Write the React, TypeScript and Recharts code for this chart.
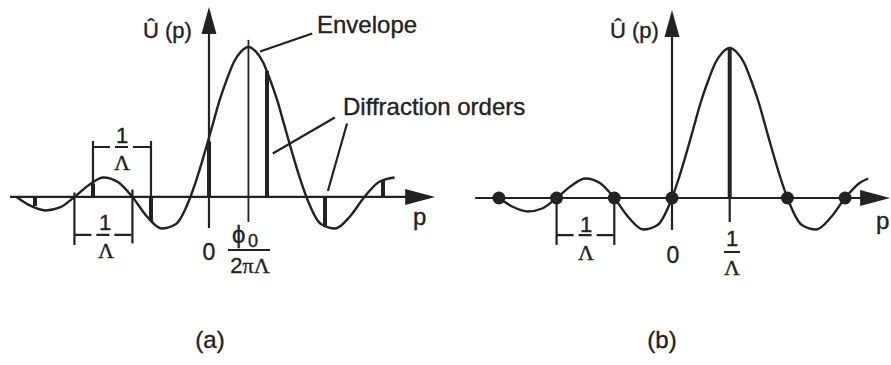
import {
  ComposedChart,
  Line,
  XAxis,
  YAxis,
  ReferenceLine,
  ReferenceDot,
} from "recharts";

// envelope of panel (a) (p in units of 1/Λ)
const ENV_A_P = [
  -3.32, -3.07, -2.82, -2.57, -2.32, -2.07, -1.82, -1.57, -1.32, -1.07, -0.82,
  -0.57, -0.32, -0.195, -0.07, 0.055, 0.18, 0.305, 0.43, 0.555, 0.68, 0.805,
  0.93, 1.055, 1.18, 1.305, 1.43, 1.555, 1.68, 1.93, 2.18, 2.43, 2.68, 2.93,
  3.2,
];
const ENV_A_U = [
  0, -0.06, -0.09, -0.07, 0, 0.08, 0.13, 0.1, 0, -0.13, -0.21, -0.18, 0, 0.14,
  0.3, 0.47, 0.64, 0.78, 0.9, 0.97, 1.0, 0.97, 0.9, 0.78, 0.64, 0.47, 0.3,
  0.14, 0, -0.18, -0.21, -0.13, 0, 0.1, 0.13,
];
// diffraction orders (a)
const ORDER_A_P = [-3, -2, -1, 0, 1, 2, 3];
const ORDER_A_U = [-0.06, 0.09, -0.16, 0.37, 0.84, -0.2, 0.11];
const CENTER_A = 0.68;

// envelope of panel (b)
const ENV_B_P = [
  -3, -2.75, -2.5, -2.25, -2, -1.75, -1.5, -1.25, -1, -0.75, -0.5, -0.25, 0,
  0.125, 0.25, 0.375, 0.5, 0.625, 0.75, 0.875, 1, 1.125, 1.25, 1.375, 1.5,
  1.625, 1.75, 1.875, 2, 2.25, 2.5, 2.75, 3, 3.25, 3.4,
];
const ENV_B_U = [
  0, -0.06, -0.09, -0.07, 0, 0.08, 0.13, 0.1, 0, -0.13, -0.21, -0.18, 0, 0.14,
  0.3, 0.47, 0.64, 0.78, 0.9, 0.97, 1.0, 0.97, 0.9, 0.78, 0.64, 0.47, 0.3,
  0.14, 0, -0.18, -0.21, -0.13, 0, 0.1, 0.13,
];
const ZERO_B_P = [-3, -2, -1, 0, 2, 3];
const ORDER_B_P = [1];
const ORDER_B_U = [1.0];

const INK = "#222";
const SANS = '"Liberation Sans", Arial, sans-serif';
const SERIF = '"Liberation Serif", "Times New Roman", serif';

const envA = ENV_A_P.map((p, i) => ({ p, u: ENV_A_U[i] }));
const envB = ENV_B_P.map((p, i) => ({ p, u: ENV_B_U[i] }));

const ArrowRight = (props: any) => {
  const { cx, cy } = props;
  return (
    <polygon
      points={`${cx},${cy} ${cx - 30},${cy - 8} ${cx - 30},${cy + 8}`}
      fill={INK}
    />
  );
};

const ArrowUp = (props: any) => {
  const { cx, cy } = props;
  return (
    <polygon
      points={`${cx},${cy} ${cx - 7.5},${cy + 27} ${cx + 7.5},${cy + 27}`}
      fill={INK}
    />
  );
};

const seg = (x1: number, y1: number, x2: number, y2: number, w = 2.2, dash?: string) => (
  <ReferenceLine
    key={`${x1}-${y1}-${x2}-${y2}`}
    segment={[
      { x: x1, y: y1 },
      { x: x2, y: y2 },
    ]}
    stroke={INK}
    strokeWidth={w}
    strokeDasharray={dash}
  />
);

const margin = { top: 0, right: 0, bottom: 65, left: 0 };

const PanelA = () => (
  <ComposedChart width={444} height={365} data={envA} margin={margin}>
    <XAxis type="number" dataKey="p" domain={[-3.603, 4.052]} allowDataOverflow hide />
    <YAxis type="number" domain={[-0.687, 1.313]} allowDataOverflow hide />
    {/* axes */}
    {seg(-3.43, 0, 3.5, 0)}
    {seg(0, -0.207, 0, 1.12)}
    <ReferenceDot x={3.9} y={0} r={1} shape={ArrowRight} />
    <ReferenceDot x={0} y={1.267} r={1} shape={ArrowUp} />
    {/* centre of the envelope */}
    {seg(CENTER_A, -0.167, CENTER_A, 1.047, 1.8)}
    {/* diffraction orders */}
    {ORDER_A_P.map((p, i) => seg(p, 0, p, ORDER_A_U[i], 4))}
    {/* brackets */}
    {seg(-2, 0, -2, 0.373)}
    {seg(-1, 0, -1, 0.373)}
    {seg(-2, 0.333, -1, 0.333, 2.2, "17 5 13 5")}
    {seg(-2.32, 0.03, -2.32, -0.32)}
    {seg(-1.32, 0.05, -1.32, -0.31)}
    {seg(-2.32, -0.253, -1.32, -0.253, 2.2, "17 5 13 5")}
    {/* leaders */}
    {seg(0.88, 0.97, 1.78, 1.09)}
    {seg(1.1, 0.29, 2.17, 0.53)}
    {seg(2.38, 0.49, 2.05, 0.04)}
    <Line
      type="monotone"
      dataKey="u"
      stroke={INK}
      strokeWidth={2.4}
      dot={false}
      activeDot={false}
      isAnimationActive={false}
    />
  </ComposedChart>
);

const PanelB = () => (
  <ComposedChart width={444} height={365} data={envB} margin={margin}>
    <XAxis type="number" dataKey="p" domain={[-3.899, 3.795]} allowDataOverflow hide />
    <YAxis type="number" domain={[-0.68, 1.32]} allowDataOverflow hide />
    {seg(-3.41, 0, 3.5, 0)}
    {seg(0, -0.213, 0, 1.1)}
    <ReferenceDot x={3.78} y={0} r={1} shape={ArrowRight} />
    <ReferenceDot x={0} y={1.253} r={1} shape={ArrowUp} />
    {seg(1, -0.16, 1, 0)}
    {ORDER_B_P.map((p, i) => seg(p, 0, p, ORDER_B_U[i], 4))}
    {seg(-2, 0, -2, -0.313)}
    {seg(-1, 0, -1, -0.313)}
    {seg(-2, -0.247, -1, -0.247, 2.2, "17 5 13 5")}
    <Line
      type="monotone"
      dataKey="u"
      stroke={INK}
      strokeWidth={2.4}
      dot={false}
      activeDot={false}
      isAnimationActive={false}
    />
    {ZERO_B_P.map((p) => (
      <ReferenceDot key={p} x={p} y={0} r={6.5} fill={INK} stroke="none" />
    ))}
  </ComposedChart>
);

const Labels = () => (
  <svg
    width={891}
    height={365}
    style={{ position: "absolute", left: 0, top: 0, pointerEvents: "none" }}
  >
    <g fill={INK} stroke={INK} strokeWidth={0.35} fontFamily={SANS}>
      {/* panel (a) */}
      <text x={143} y={38} fontSize={22}>Û (p)</text>
      <text x={317} y={33} fontSize={24}>Envelope</text>
      <text x={343} y={115} fontSize={24}>Diffraction orders</text>
      <text x={413} y={225} fontSize={24}>p</text>
      <text x={209} y={260} fontSize={23} textAnchor="middle">0</text>
      <text x={122} y={143} fontSize={22} textAnchor="middle">1</text>
      <text x={122} y={170} fontSize={22} textAnchor="middle" fontFamily={SERIF}>Λ</text>
      <text x={105} y={230} fontSize={22} textAnchor="middle">1</text>
      <text x={106} y={258} fontSize={22} textAnchor="middle" fontFamily={SERIF}>Λ</text>
      <text x={232} y={243} fontSize={24}>ϕ</text>
      <text x={248} y={247} fontSize={18}>0</text>
      <line x1={228} y1={250} x2={270} y2={250} stroke={INK} strokeWidth={2} />
      <text x={250} y={273} fontSize={22} textAnchor="middle">
        2<tspan fontFamily={SERIF}>πΛ</tspan>
      </text>
      <text x={210} y={348} fontSize={24} textAnchor="middle">(a)</text>

      {/* panel (b) */}
      <text x={610} y={38} fontSize={22}>Û (p)</text>
      <text x={876} y={229} fontSize={24}>p</text>
      <text x={673} y={263} fontSize={23} textAnchor="middle">0</text>
      <text x={732} y={246} fontSize={22} textAnchor="middle">1</text>
      <line x1={724} y1={252} x2={740} y2={252} stroke={INK} strokeWidth={2} />
      <text x={732} y={275} fontSize={22} textAnchor="middle" fontFamily={SERIF}>Λ</text>
      <text x={586} y={232} fontSize={22} textAnchor="middle">1</text>
      <text x={586} y={260} fontSize={22} textAnchor="middle" fontFamily={SERIF}>Λ</text>
      <text x={662} y={348} fontSize={24} textAnchor="middle">(b)</text>
    </g>
  </svg>
);

export default function App() {
  return (
    <div
      style={{
        position: "absolute",
        left: 0,
        top: 0,
        width: 891,
        height: 365,
        background: "#fff",
        overflow: "hidden",
      }}
    >
      <div style={{ position: "absolute", left: 0, top: 0 }}>
        <PanelA />
      </div>
      <div style={{ position: "absolute", left: 447, top: 0 }}>
        <PanelB />
      </div>
      <Labels />
    </div>
  );
}
